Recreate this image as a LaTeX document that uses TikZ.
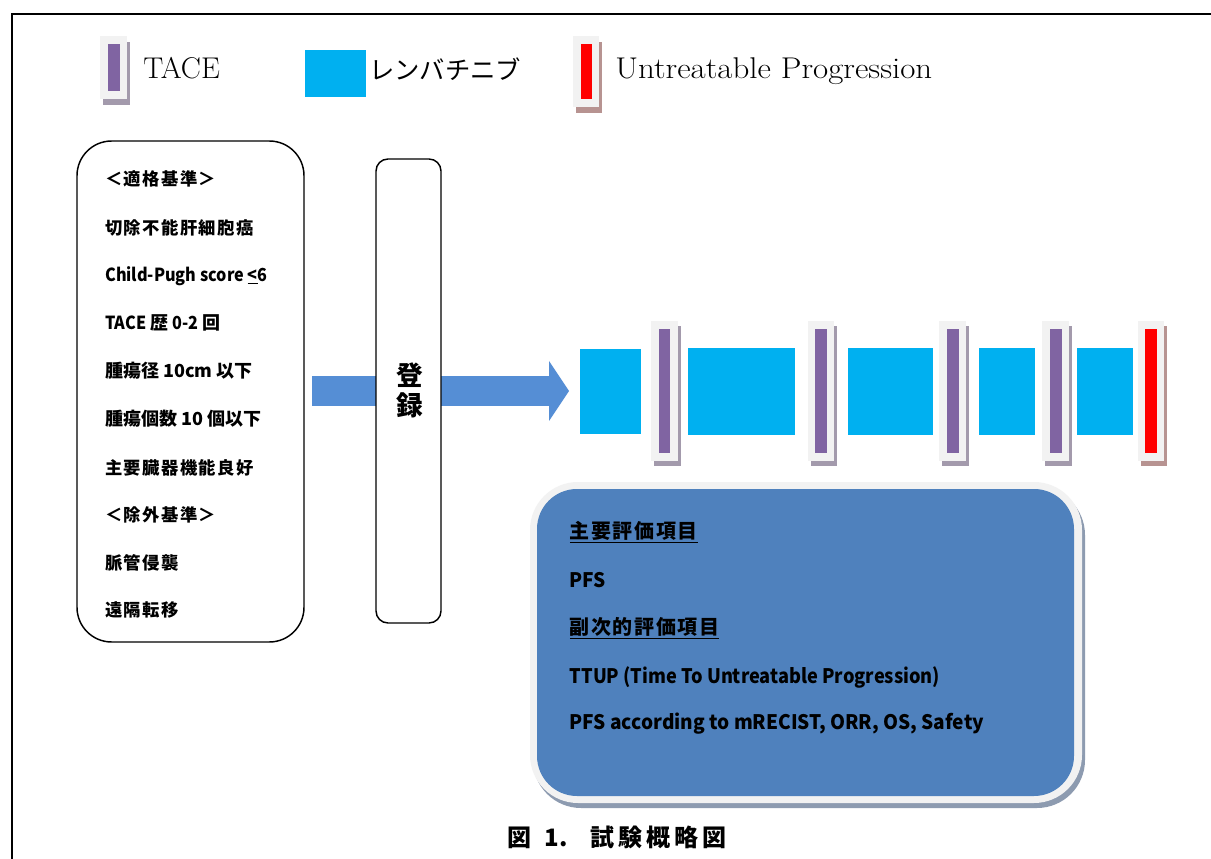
\documentclass[tikz,border=0pt]{standalone}
\usepackage{fontspec}
\newfontfamily\jp{Noto Sans CJK JP}
\newfontfamily\jpsp{Noto Sans CJK JP}[LetterSpace=8]
\usetikzlibrary{arrows.meta,fit}
\definecolor{lenva}{HTML}{00B0F0}
\definecolor{tace}{HTML}{8064A2}
\definecolor{tshadow}{HTML}{A39AAC}
\definecolor{rshadow}{HTML}{B79391}
\definecolor{lightbox}{HTML}{F2F2F2}
\definecolor{arrowblue}{HTML}{558ED5}
\definecolor{endpt}{HTML}{4F81BD}
\definecolor{boxshadow}{HTML}{8D9BB0}
\newcommand\drawbar[8]{%
  \fill[#7] (#2+3,#3+#8) rectangle (#4+3,#5+#8);
  \fill[lightbox] (#2,#3) rectangle (#4,#5);
  \node[fill=#6, inner sep=0pt, fit={(#2+7.5,#3+8) (#4-7.5,#5-8)}] (#1) {};
}
\tikzset{
  ltext/.style={anchor=west, inner sep=0pt, font=\jp\bfseries\fontsize{13.5}{16}\selectfont},
  lcjk/.style={anchor=west, inner sep=0pt, font=\jpsp\bfseries\fontsize{13}{16}\selectfont},
  btext/.style={anchor=west, inner sep=0pt, font=\jp\bfseries\fontsize{15}{18}\selectfont},
  bcjk/.style={anchor=west, inner sep=0pt, font=\jpsp\bfseries\fontsize{15}{18}\selectfont},
  legtext/.style={anchor=base west, inner sep=0pt, font=\fontsize{22.5}{27}\selectfont},
  lenvabox/.style={fill=lenva, inner sep=0pt},
}
\begin{document}
\begin{tikzpicture}[x=0.75pt,y=-0.75pt]
\useasboundingbox (0,0) rectangle (1211,859);
\clip (0,0) rectangle (1211,859);
\fill[white] (0,0) rectangle (1211,859);
\draw[line width=1.6pt] (12,14) rectangle (1240,890);

% legend
\drawbar{legT}{100}{36}{127.4}{99.3}{tace}{tshadow}{6}
\node[legtext] (legTt) at (143,79) {TACE};
\node[lenvabox, fit={(305,50) (366,97)}] (legL) {};
\node[anchor=west, inner sep=0pt, font=\jp\fontsize{19}{22}\selectfont] (legLt) at (369,69) {レンバチニブ};
\drawbar{legR}{573}{36}{599}{107}{red}{rshadow}{6}
\node[legtext] (legRt) at (615,79) {\scalebox{1.097}[1]{Untreatable Progression}};

% arrow
\coordinate (arrS) at (312,391);
\coordinate (arrE) at (569,391);
\draw[arrowblue, line width=22.5pt, -{Triangle[length=15pt,width=45pt,line width=0pt]}] (arrS) -- (arrE);

% criteria box
\node[draw, line width=1.1pt, rounded corners=26pt, fill=white, inner sep=0pt, fit={(77,141) (304,642)}] (crit) {};
\node[lcjk] (c1) at (105,179) {＜適格基準＞};
\node[lcjk] (c2) at (105,228) {切除不能肝細胞癌};
\node[ltext] (c3) at (105,276) {\scalebox{0.9}[1]{Child-Pugh score \underline{<}6}};
\node[ltext] (c4) at (105,323) {\scalebox{0.9}[1]{TACE} 歴 \scalebox{0.9}[1]{0-2} 回};
\node[ltext] (c5) at (105,371) {腫瘍径 10cm 以下};
\node[ltext] (c6) at (105,419) {腫瘍個数 10 個以下};
\node[lcjk] (c7) at (105,468) {主要臓器機能良好};
\node[lcjk] (c8) at (105,515) {＜除外基準＞};
\node[lcjk] (c9) at (105,563) {脈管侵襲};
\node[lcjk] (c10) at (105,610) {遠隔転移};

% registration box
\node[draw, line width=1.1pt, rounded corners=9pt, fill=white, inner sep=0pt, fit={(376,159) (441,623)}] (reg) {};
\node[align=center, inner sep=0pt, font=\jp\bfseries\fontsize{20}{22.5}\selectfont] (regt) at (410,390) {登\\録};

% treatment sequence
\node[lenvabox, fit={(580,349) (641,434)}] (l1) {};
\drawbar{t1}{651}{320.7}{677.7}{461}{tace}{tshadow}{5}
\node[lenvabox, fit={(688,348) (795,435)}] (l2) {};
\drawbar{t2}{807.7}{320.7}{834.3}{461}{tace}{tshadow}{5}
\node[lenvabox, fit={(848,348) (933,435)}] (l3) {};
\drawbar{t3}{939}{320.7}{966}{461}{tace}{tshadow}{5}
\node[lenvabox, fit={(979,348) (1035,435)}] (l4) {};
\drawbar{t4}{1042.3}{320.7}{1069.3}{461}{tace}{tshadow}{5}
\node[lenvabox, fit={(1077,348) (1133,435)}] (l5) {};
\drawbar{up}{1137.7}{320.7}{1164.3}{461}{red}{rshadow}{5}

% endpoints box
\fill[boxshadow, rounded corners=36pt] (533,487) rectangle (1085,808);
\fill[lightbox, rounded corners=36pt] (530,482) rectangle (1082,803);
\node[fill=endpt, rounded corners=30pt, inner sep=0pt, fit={(537,489) (1074,796)}] (ep) {};
\node[bcjk] (e1) at (569.5,532) {\underline{主要評価項目}};
\node[btext] (e2) at (569.5,580) {\scalebox{0.955}[1]{PFS}};
\node[bcjk] (e3) at (569.5,628) {\underline{副次的評価項目}};
\node[btext] (e4) at (569.5,677) {\scalebox{0.91}[1]{TTUP (Time To Untreatable Progression)}};
\node[btext] (e5) at (569.5,724) {\scalebox{0.955}[1]{PFS according to mRECIST, ORR, OS, Safety}};

% caption
\node[anchor=west, inner sep=0pt, font=\jp\bfseries\fontsize{18}{20}\selectfont] (cap) at (507,837) {図\hspace{10pt}1.\hspace{17pt}{\addfontfeature{LetterSpace=17}試験概略図}};
\end{tikzpicture}
\end{document}
